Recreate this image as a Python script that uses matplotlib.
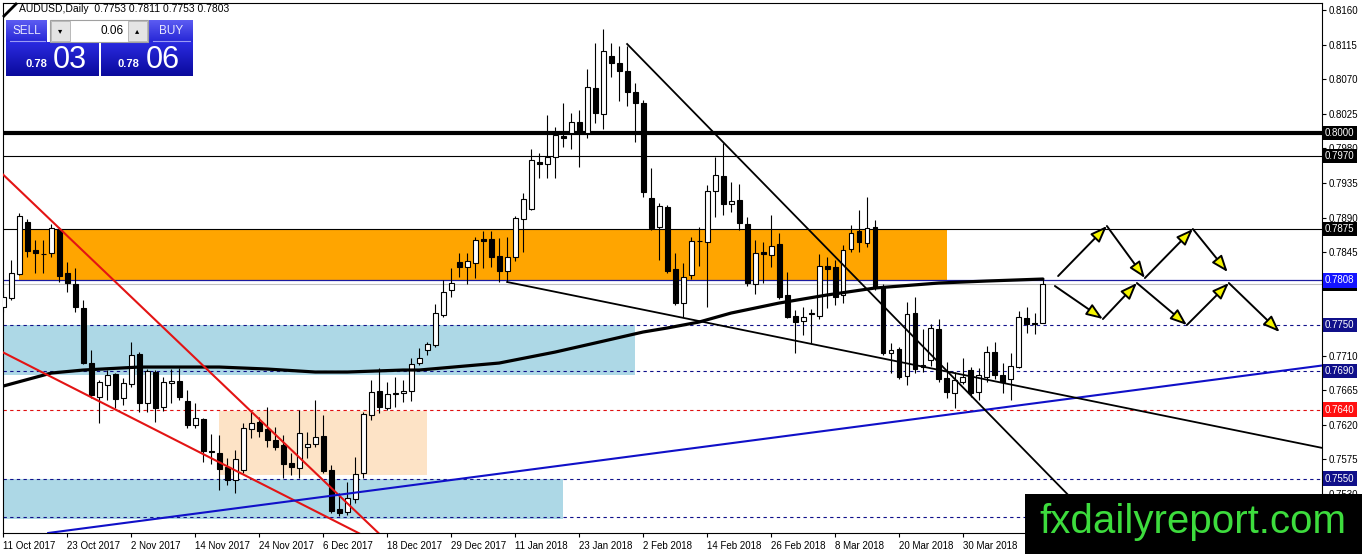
import numpy as np
import matplotlib
matplotlib.use('Agg')
import matplotlib.pyplot as plt
from matplotlib.patches import Rectangle
import matplotlib.transforms as mtransforms

plt.rcParams['font.family'] = ['Liberation Sans', 'DejaVu Sans']

# daily AUDUSD candles, bar index 0 = 11 Oct 2017
opens = [.7773, .7785, .7816, .7884, .7848, .7843, .7844, .7875, .7818, .7803,
         .7772, .7701, .7656, .7672, .7686, .7655, .7673, .7712, .7648, .7689,
         .7643, .7674, .7677, .7651, .7620, .7628, .7586, .7583, .7565, .7548,
         .7561, .7615, .7624, .7615, .7600, .7594, .7570, .7564, .7591, .7595,
         .7605, .7561, .7510, .7507, .7523, .7557, .7633, .7664, .7642, .7660,
         .7661, .7664, .7701, .7717, .7724, .7763, .7796, .7832, .7826, .7831,
         .7862, .7862, .7840, .7820, .7839, .7888, .7901, .7962, .7960, .7969,
         .7996, .8000, .8014, .8000, .8059, .8025, .8100, .8091, .8081, .8053,
         .8039, .7915, .7878, .7904, .7823, .7779, .7815, .7859, .7858, .7924,
         .7944, .7908, .7913, .7882, .7803, .7845, .7841, .7855, .7789, .7762,
         .7755, .7765, .7762, .7827, .7826, .7789, .7849, .7872, .7857, .7878,
         .7799, .7714, .7719, .7684, .7766, .7695, .7704, .7745, .7681, .7661,
         .7676, .7691, .7663, .7682, .7715, .7685, .7680, .7695, .7759, .7751,
         .7753]
highs = [.7796, .7835, .7896, .7888, .7861, .7861, .7882, .7878, .7832, .7824,
         .7783, .7717, .7678, .7691, .7688, .7681, .7728, .7715, .7693, .7691,
         .7682, .7693, .7694, .7665, .7648, .7629, .7608, .7607, .7577, .7587,
         .7622, .7637, .7630, .7643, .7617, .7607, .7583, .7639, .7611, .7652,
         .7633, .7568, .7531, .7546, .7578, .7637, .7678, .7694, .7676, .7682,
         .7678, .7707, .7720, .7728, .7777, .7809, .7824, .7844, .7844, .7865,
         .7872, .7872, .7863, .7865, .7892, .7922, .7979, .7974, .8023, .8008,
         .8039, .8026, .8030, .8083, .8117, .8135, .8117, .8113, .8113, .8065,
         .8043, .7954, .7909, .7906, .7844, .7831, .7865, .7878, .7932, .7969,
         .7987, .7936, .7934, .7891, .7861, .7858, .7893, .7870, .7819, .7770,
         .7773, .7771, .7842, .7839, .7835, .7854, .7880, .7900, .7917, .7887,
         .7803, .7727, .7721, .7780, .7786, .7745, .7751, .7758, .7702, .7689,
         .7707, .7695, .7694, .7723, .7728, .7701, .7714, .7768, .7773, .7766,
         .7811]
lows = [.7767, .7783, .7815, .7839, .7818, .7818, .7839, .7806, .7793, .7767,
        .7699, .7655, .7622, .7652, .7642, .7646, .7669, .7637, .7637, .7624,
        .7638, .7648, .7652, .7616, .7616, .7572, .7569, .7535, .7542, .7531,
        .7557, .7603, .7604, .7591, .7587, .7551, .7555, .7551, .7577, .7591,
        .7557, .7505, .7501, .7503, .7518, .7551, .7626, .7635, .7639, .7643,
        .7650, .7651, .7698, .7711, .7721, .7760, .7786, .7813, .7803, .7811,
        .7824, .7826, .7806, .7806, .7833, .7845, .7900, .7941, .7941, .7941,
        .7982, .7979, .7956, .7993, .8013, .8005, .8073, .8042, .8035, .7988,
        .7917, .7874, .7835, .7818, .7776, .7760, .7810, .7827, .7773, .7891,
        .7893, .7897, .7874, .7801, .7790, .7805, .7826, .7784, .7759, .7714,
        .7737, .7727, .7758, .7772, .7776, .7779, .7845, .7845, .7852, .7796,
        .7711, .7688, .7680, .7672, .7688, .7689, .7697, .7676, .7655, .7642,
        .7673, .7656, .7652, .7676, .7680, .7661, .7652, .7694, .7740, .7738,
        .7753]
closes = [.7786, .7818, .7892, .7846, .7844, .7842, .7876, .7814, .7805, .7773,
          .7701, .7659, .7676, .7685, .7654, .7674, .7711, .7648, .7690, .7642,
          .7676, .7677, .7656, .7620, .7629, .7586, .7585, .7562, .7548, .7575,
          .7616, .7622, .7612, .7600, .7591, .7569, .7565, .7609, .7595, .7604,
          .7560, .7508, .7505, .7525, .7556, .7634, .7663, .7643, .7660, .7661,
          .7664, .7699, .7707, .7725, .7766, .7793, .7805, .7826, .7833, .7861,
          .7859, .7839, .7820, .7839, .7889, .7914, .7965, .7960, .7969, .7997,
          .7993, .8014, .8000, .8060, .8026, .8107, .8091, .8081, .8053, .8039,
          .7923, .7876, .7905, .7820, .7779, .7813, .7859, .7860, .7924, .7945,
          .7908, .7911, .7883, .7805, .7844, .7843, .7853, .7786, .7760, .7754,
          .7760, .7766, .7827, .7823, .7786, .7848, .7870, .7858, .7876, .7798,
          .7714, .7717, .7682, .7764, .7693, .7698, .7746, .7680, .7663, .7678,
          .7682, .7661, .7685, .7715, .7685, .7676, .7697, .7760, .7751, .7753,
          .7803]

date_labels = ['11 Oct 2017', '23 Oct 2017', '2 Nov 2017', '14 Nov 2017', '24 Nov 2017',
               '6 Dec 2017', '18 Dec 2017', '29 Dec 2017', '11 Jan 2018', '23 Jan 2018',
               '2 Feb 2018', '14 Feb 2018', '26 Feb 2018', '8 Mar 2018', '20 Mar 2018',
               '30 Mar 2018']
price_ticks = [0.8160, 0.8115, 0.8070, 0.8025, 0.7980, 0.7935, 0.7890, 0.7845,
               0.7710, 0.7665, 0.7620, 0.7575, 0.7530]

# moving average read at a few bars
ma_bars = [0, 6, 10, 17, 27, 33, 39, 43, 50, 52, 62, 69, 74, 80, 83, 87, 91, 97,
           103, 109, 117, 123, 130]
ma_vals = [.76706, .76875, .76914, .76953, .76953, .76927, .76888, .76888, .76914,
           .76914, .77005, .77148, .77266, .77409, .77461, .77539, .77656, .77786,
           .77891, .77982, .78047, .78073, .78099]

# levels
lvl_thick = 0.8000
lvl_thin = [0.7970, 0.7875]
lvl_blue = 0.7808
lvl_bid = 0.7803
lvl_dash_navy = [0.7750, 0.7690, 0.7550, 0.7500]
lvl_dash_red = 0.7640

# zones: (bar from, bar to, price low, price high)
zone_orange = (2, 118, 0.78086, 0.7875)
zone_blue1 = (-1, 79, 0.7685, 0.7750)
zone_blue2 = (-1, 70, 0.74974, 0.7550)
zone_peach = (27, 53, 0.7555, 0.7638)

# trend lines: ((bar, price), (bar, price))
red_line_1 = ((-0.375, 0.79492), (46.9, 0.74792))
red_line_2 = ((-0.375, 0.77161), (44.4, 0.74792))
blue_line = ((5.6, 0.74792), (164.4, 0.76966))
black_line_1 = ((63, 0.78060), (164.4, 0.75911))
black_line_2 = ((78, 0.81159), (123.75, 0.76289))

# projected paths
path_up_bars = [131.9, 138.0, 142.75, 148.75, 153.1]
path_up_prices = [0.78138, 0.78789, 0.78112, 0.78750, 0.78190]
path_dn_bars = [131.5, 137.5, 141.75, 148.0, 153.25, 159.6]
path_dn_prices = [0.78008, 0.77578, 0.78047, 0.77500, 0.78047, 0.77409]

# right side price tags
tags = [(0.8000, 'black'), (0.7970, 'black'), (0.7875, 'black'), (0.7803, 'black'),
        (0.7808, '#1414ff'), (0.7750, '#10108a'), (0.7690, '#10108a'),
        (0.7640, '#ff1010'), (0.7550, '#10108a')]

W, H = 1362, 554
fig = plt.figure(figsize=(W / 100, H / 100), dpi=100)
fig.patch.set_facecolor('white')
ax = fig.add_axes([3 / W, (H - 533) / H, (1322 - 3) / W, (533 - 3) / H])

o = np.array(opens); h = np.array(highs); l = np.array(lows); c = np.array(closes)
x = np.arange(len(o))
up = c >= o

# zones
for (b0, b1, p0, p1), col in [(zone_orange, '#ffa500'), (zone_blue1, '#add8e6'),
                               (zone_blue2, '#add8e6'), (zone_peach, '#fde3c6')]:
    ax.add_patch(Rectangle((b0, p0), b1 - b0, p1 - p0, facecolor=col, edgecolor='none', zorder=1))

# horizontal levels
ax.axhline(lvl_thick, color='black', lw=3, zorder=2)
for v in lvl_thin:
    ax.axhline(v, color='black', lw=0.8, zorder=2)
ax.axhline(lvl_bid, color='#c0c0c0', lw=0.8, zorder=2)
ax.axhline(lvl_blue, color='#1a1aa0', lw=0.9, zorder=2)
for v in lvl_dash_navy:
    ax.axhline(v, color='#10108a', lw=0.8, ls=(0, (3, 3)), zorder=2)
ax.axhline(lvl_dash_red, color='#e01010', lw=0.8, ls=(0, (3, 3)), zorder=2)

# candles
ax.vlines(x, l, h, color='black', lw=0.8, zorder=3)
ax.bar(x[up], c[up] - o[up], bottom=o[up], width=0.62, color='white',
       edgecolor='black', lw=0.8, zorder=4)
ax.bar(x[~up], o[~up] - c[~up], bottom=c[~up], width=0.62, color='black',
       edgecolor='black', lw=0.8, zorder=4)

# moving average
ax.plot(ma_bars, ma_vals, color='black', lw=2.3, zorder=5, solid_capstyle='round')


def trend(line, col, lw, x_end):
    (b0, p0), (b1, p1) = line
    k = (p1 - p0) / (b1 - b0)
    ax.plot([b0, x_end], [p0, p0 + k * (x_end - b0)], color=col, lw=lw, zorder=6)


trend(red_line_1, '#e31414', 1.5, 60)
trend(red_line_2, '#e31414', 1.5, 60)
trend(blue_line, '#1010c8', 1.5, 170)
trend(black_line_1, 'black', 1.3, 170)
trend(black_line_2, 'black', 1.3, 150)

for bars, prices in [(path_up_bars, path_up_prices), (path_dn_bars, path_dn_prices)]:
    for i in range(len(bars) - 1):
        ax.annotate('', xy=(bars[i + 1], prices[i + 1]), xytext=(bars[i], prices[i]),
                    arrowprops=dict(arrowstyle='-|>,head_length=1.0,head_width=0.38',
                                    fc='#f5f500', ec='black', lw=1.4,
                                    shrinkA=0, shrinkB=0), zorder=7)

ax.set_xlim(-0.05, 164.9)
ax.set_ylim(0.74792, 0.81693)
ax.set_xticks(np.arange(0, 8 * len(date_labels), 8))
ax.set_xticklabels(date_labels, ha='left')
ax.yaxis.tick_right()
ax.set_yticks(price_ticks)
ax.set_yticklabels([f'{v:.4f}' for v in price_ticks])
ax.tick_params(axis='both', labelsize=7, length=3, width=0.8, direction='out', pad=2)
ax.tick_params(axis='x', pad=3)
for s in ax.spines.values():
    s.set_linewidth(0.8)

blend = mtransforms.blended_transform_factory(fig.transFigure, ax.transData)
for v, col in tags:
    ax.text(1325 / W, v, f'{v:.4f}', transform=blend, fontsize=7, color='white',
            va='center', ha='left', clip_on=False, zorder=10,
            bbox=dict(boxstyle='square,pad=0.22', fc=col, ec='none'))

# overlay in pixel units for the trade panel and watermark
ov = fig.add_axes([0, 0, 1, 1])
ov.set_xlim(0, W)
ov.set_ylim(H, 0)
ov.axis('off')
ov.patch.set_alpha(0)


def grad_box(x0, y0, x1, y1, top, bottom):
    g = np.linspace(0, 1, 50)[:, None]
    c0 = np.array(matplotlib.colors.to_rgb(top))
    c1 = np.array(matplotlib.colors.to_rgb(bottom))
    img = (c0[None, None, :] * (1 - g[..., None]) + c1[None, None, :] * g[..., None])
    ov.imshow(img, extent=[x0, x1, y1, y0], aspect='auto', zorder=2, interpolation='bilinear')


ov.plot([4, 16], [16, 4], color='black', lw=2)
ov.text(19, 9, f'AUDUSD,Daily  {o[-1]:.4f} {h[-1]:.4f} {l[-1]:.4f} {c[-1]:.4f}',
        fontsize=7.5, va='center', ha='left')

grad_box(6, 20, 47, 42, '#5c5cf2', '#2626d6')
grad_box(149, 20, 193, 42, '#5c5cf2', '#2626d6')
grad_box(6, 42, 99, 76, '#2a2ae0', '#0a0a9c')
grad_box(101, 42, 193, 76, '#2a2ae0', '#0a0a9c')
ov.plot([10, 45], [41, 41], color='#9a9af5', lw=0.8, zorder=3)
ov.plot([153, 190], [41, 41], color='#9a9af5', lw=0.8, zorder=3)
ov.add_patch(Rectangle((50, 20), 98, 22, fc='white', ec='#a0a0a0', lw=0.8, zorder=2))
ov.add_patch(Rectangle((51, 21), 19, 20, fc='#e4e4e4', ec='#b0b0b0', lw=0.6, zorder=3))
ov.add_patch(Rectangle((128, 21), 19, 20, fc='#e4e4e4', ec='#b0b0b0', lw=0.6, zorder=3))
ov.text(60.5, 31, '\u25be', fontsize=6, ha='center', va='center', zorder=4, family='DejaVu Sans')
ov.text(137.5, 31, '\u25b4', fontsize=6, ha='center', va='center', zorder=4, family='DejaVu Sans')
ov.text(124, 31, '0.06', fontsize=8.5, ha='right', va='center', zorder=4)
ov.text(26.5, 31, 'SELL', fontsize=8.5, ha='center', va='center', color='#e8e8ff', zorder=4)
ov.text(171, 31, 'BUY', fontsize=8.5, ha='center', va='center', color='#e8e8ff', zorder=4)
bid = c[-1]
ask = bid + 0.0003
for x0, val in [(25, bid), (118, ask)]:
    s = f'{val:.4f}'
    ov.text(x0, 64, s[:4], fontsize=8, fontweight='bold', color='white',
            ha='left', va='center', zorder=4)
    ov.text(x0 + 28, 60, s[4:], fontsize=22, color='white', ha='left', va='center', zorder=4)

ov.add_patch(Rectangle((1025, 494), W - 1025, H - 494, fc='black', ec='none', zorder=5))
ov.text(1193, 522, 'fxdailyreport.com', fontsize=29, color='#3ddc3d',
        ha='center', va='center', zorder=6)

fig.savefig('out.png', dpi=100, facecolor='white')
